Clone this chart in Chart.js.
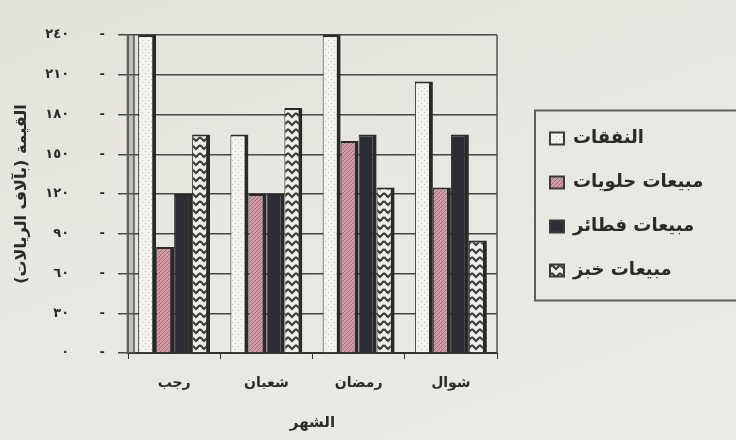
<!DOCTYPE html>
<html>
<head>
<meta charset="utf-8">
<script src="https://cdn.jsdelivr.net/npm/chart.js@4"></script>
<style>
html,body{margin:0;padding:0;}
body{background:linear-gradient(160deg,#e3e2db 0%,#e8e7e1 45%,#ebeae6 100%);width:736px;height:440px;overflow:hidden;}
canvas{display:block;}
</style>
</head>
<body>
<canvas id="c" dir="rtl" width="736" height="440"></canvas>
<script>
// ---- data ----
const months = ['رجب', 'شعبان', 'رمضان', 'شوال'];
const seriesNames = ['النفقات', 'مبيعات حلويات', 'مبيعات فطائر', 'مبيعات خبز'];
const expenses = [240, 165, 240, 205];
const sweetsSales = [80, 120, 160, 125];
const piesSales = [120, 120, 165, 165];
const breadSales = [165, 185, 125, 85];
const yTickValues = [0, 30, 60, 90, 120, 150, 180, 210, 240];
const yTickLabels = ['٠', '٣٠', '٦٠', '٩٠', '١٢٠', '١٥٠', '١٨٠', '٢١٠', '٢٤٠'];
const yTitle = 'القيمة (بآلاف الريالات)';
const xTitle = 'الشهر';

// ---- styles ----
const FONT = "'DejaVu Sans', sans-serif";
const TEXT = '#2a2a2a';
const LEGEND_W = 239;

function pattern(w, h, draw) {
  const c = document.createElement('canvas');
  c.width = w; c.height = h;
  const g = c.getContext('2d');
  draw(g, w, h);
  return g.createPattern(c, 'repeat');
}
const dotted = pattern(6, 6, g => {
  g.fillStyle = '#f3f2ee'; g.fillRect(0, 0, 6, 6);
  g.fillStyle = '#bdbcb6'; g.fillRect(1, 1, 1, 1); g.fillRect(4, 4, 1, 1);
});
const hatch = pattern(4, 4, g => {
  g.fillStyle = '#d09aa6'; g.fillRect(0, 0, 4, 4);
  g.strokeStyle = '#a66a7a'; g.lineWidth = 1;
  g.beginPath();
  g.moveTo(-1, 5); g.lineTo(5, -1);
  g.moveTo(-1, 1); g.lineTo(1, -1);
  g.moveTo(3, 5); g.lineTo(5, 3);
  g.stroke();
});
const zigzag = pattern(8, 8, g => {
  g.fillStyle = '#eeeeea'; g.fillRect(0, 0, 8, 8);
  g.strokeStyle = '#3a3a3a'; g.lineWidth = 2;
  g.beginPath();
  g.moveTo(0, 1); g.lineTo(4, 5); g.lineTo(8, 1);
  g.stroke();
});
const dark = '#2c2c34';

const legendLayout = {
  id: 'legendLayout',
  beforeLayout(chart) {
    const lg = chart.legend;
    if (lg && !lg.__patched) {
      const f = lg.fit;
      lg.fit = function () { f.call(this); this.width = LEGEND_W; };
      lg.__patched = true;
    }
  },
  afterLayout(chart) {
    const lg = chart.legend;
    lg.left += 27; lg.right += 27;
    lg.top -= 33; lg.bottom -= 33;
  },
  afterDraw(chart) {
    const hb = chart.legend.legendHitBoxes;
    if (!hb || !hb.length) return;
    const ctx = chart.ctx;
    const l = Math.min(...hb.map(b => b.left)) - 15;
    const t = Math.min(...hb.map(b => b.top)) - 19;
    const b = Math.max(...hb.map(b => b.top + b.height)) + 21;
    ctx.save();
    ctx.strokeStyle = '#5e5e5c';
    ctx.lineWidth = 2;
    ctx.strokeRect(l, t, chart.width + 20 - l, b - t);
    ctx.restore();
  }
};

const frame = {
  id: 'frame',
  beforeDatasetsDraw(chart) {
    const {ctx, chartArea: a} = chart;
    ctx.save();
    ctx.fillStyle = 'rgba(120,118,112,0.35)';
    ctx.fillRect(a.left - 2, a.top, 8, a.bottom - a.top);
    ctx.strokeStyle = '#555';
    ctx.lineWidth = 1.5;
    ctx.beginPath();
    ctx.moveTo(a.left + 6, a.top); ctx.lineTo(a.left + 6, a.bottom);
    ctx.moveTo(a.right, a.top); ctx.lineTo(a.right, a.bottom);
    ctx.stroke();
    ctx.restore();
  }
};

new Chart(document.getElementById('c'), {
  type: 'bar',
  data: {
    labels: months,
    datasets: [
      {label: seriesNames[0], data: expenses, backgroundColor: dotted},
      {label: seriesNames[1], data: sweetsSales, backgroundColor: hatch},
      {label: seriesNames[2], data: piesSales, backgroundColor: dark},
      {label: seriesNames[3], data: breadSales, backgroundColor: zigzag}
    ]
  },
  options: {
    responsive: false,
    animation: false,
    devicePixelRatio: 1,
    layout: {padding: {top: 35, left: 0, right: 0, bottom: 0}},
    datasets: {
      bar: {
        categoryPercentage: 0.78,
        barPercentage: 1,
        borderColor: '#2a2a2a',
        borderWidth: {top: 2, right: 4, left: 1, bottom: 0}
      }
    },
    plugins: {
      tooltip: {enabled: false},
      legend: {
        position: 'right',
        align: 'center',
        labels: {
          font: {family: FONT, size: 18, weight: 'bold'},
          color: TEXT,
          boxWidth: 14,
          boxHeight: 12,
          padding: 26,
          generateLabels(chart) {
            return Chart.defaults.plugins.legend.labels.generateLabels(chart)
              .map(l => Object.assign(l, {lineWidth: 2, strokeStyle: '#3a3a3a'}));
          }
        }
      }
    },
    scales: {
      x: {
        grid: {display: true, drawOnChartArea: false, tickLength: 6, color: '#333', offset: true},
        border: {display: true, color: '#333', width: 2},
        ticks: {font: {family: FONT, size: 14, weight: 'bold'}, color: TEXT, padding: 16},
        title: {display: true, text: xTitle, font: {family: FONT, size: 15, weight: 'bold'}, color: TEXT, padding: {top: 4, bottom: 8}},
        afterFit(s) { s.height = 87; }
      },
      y: {
        min: 0,
        max: 240,
        afterBuildTicks(s) { s.ticks = yTickValues.map(v => ({value: v})); },
        ticks: {
          font: {family: FONT, size: 13, weight: 'bold'},
          color: TEXT,
          padding: 13,
          callback: v => '-\u2003\u2003 ' + yTickLabels[yTickValues.indexOf(v)]
        },
        grid: {color: '#454545', lineWidth: 1.5, tickLength: 10, tickColor: '#454545'},
        border: {display: true, color: '#555', width: 2},
        title: {display: true, text: yTitle, font: {family: FONT, size: 16, weight: 'bold'}, color: TEXT, padding: 12},
        afterFit(s) { s.width = 128; }
      }
    }
  },
  plugins: [legendLayout, frame]
});
</script>
</body>
</html>
